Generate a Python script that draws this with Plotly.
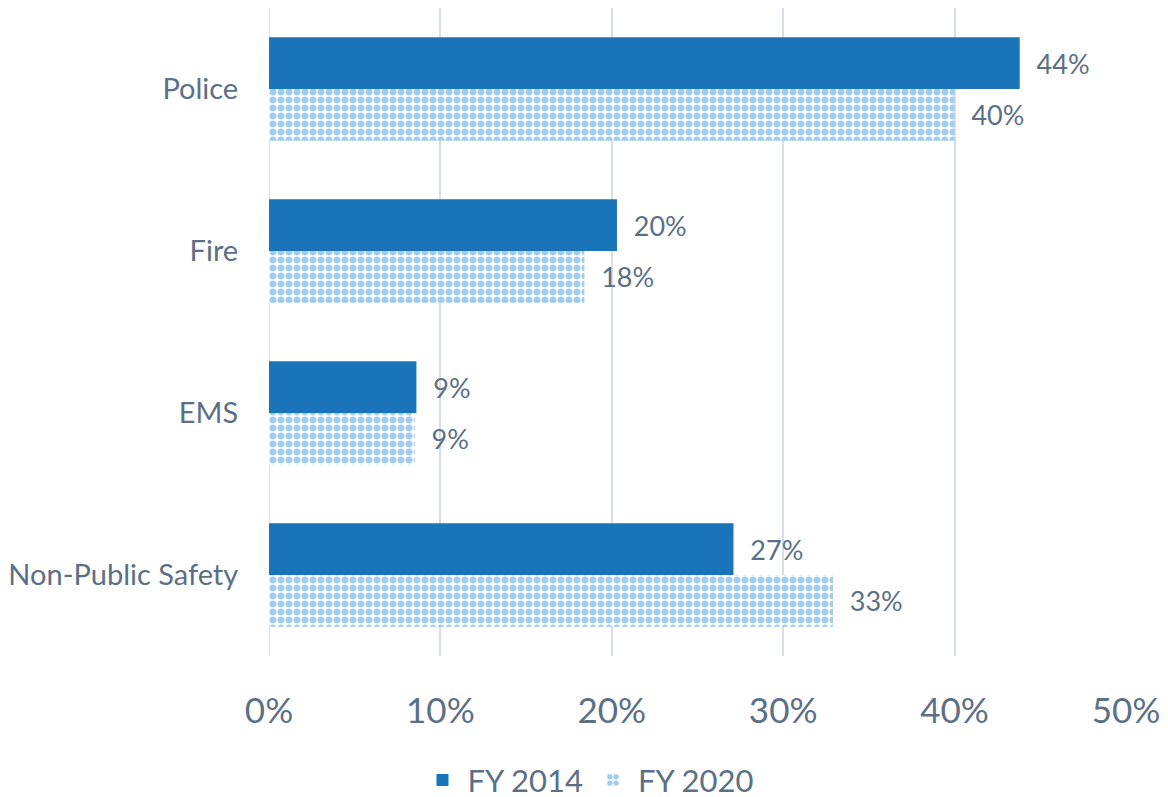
import plotly.graph_objects as go

categories = ["Police", "Fire", "EMS", "Non-Public Safety"]
fy2014 = [0.438, 0.203, 0.086, 0.271]
fy2020 = [0.400, 0.184, 0.085, 0.329]
x_ticks = [0, 0.1, 0.2, 0.3, 0.4, 0.5]

TEXT = "#5B6F86"
FONT = "Lato, 'Open Sans', sans-serif"
LABEL = "\u00a0\u00a0%{x:.0%}"

fig = go.Figure()
fig.add_trace(go.Bar(
    y=categories, x=fy2014, name="FY 2014", orientation="h",
    marker=dict(color="#1A74BA", line=dict(width=0)),
    texttemplate=LABEL, textposition="outside",
    textfont=dict(size=27, color=TEXT), cliponaxis=False,
))
fig.add_trace(go.Bar(
    y=categories, x=fy2020, name="FY 2020", orientation="h",
    marker=dict(
        color="white", line=dict(width=0),
        pattern=dict(shape=".", fgcolor="#4499E2", bgcolor="white",
                     size=8, solidity=0.6, fillmode="overlay"),
    ),
    texttemplate=LABEL, textposition="outside",
    textfont=dict(size=27, color=TEXT), cliponaxis=False,
))

# page body adds an 8px offset, so margins are shifted to compensate
fig.update_layout(
    barmode="group",
    bargap=0.36,
    bargroupgap=0,
    width=1168, height=797,
    margin=dict(l=261, r=50, t=0, b=149),
    plot_bgcolor="white",
    paper_bgcolor="white",
    font=dict(family=FONT, color=TEXT),
    xaxis=dict(
        range=[0, 0.5], tickvals=x_ticks, tickformat=".0%",
        tickfont=dict(size=35, color=TEXT),
        showgrid=True, gridcolor="#D9DEE6", gridwidth=2,
        zeroline=False, showline=False,
        ticks="outside", ticklen=24, tickcolor="rgba(0,0,0,0)",
    ),
    yaxis=dict(
        autorange="reversed",
        tickfont=dict(size=29, color=TEXT),
        ticks="outside", ticklen=24, tickcolor="rgba(0,0,0,0)",
        showline=False,
    ),
    legend=dict(
        orientation="h", xref="container", yref="container",
        x=0.497, xanchor="center", y=0.031, yanchor="middle",
        font=dict(size=31, color=TEXT),
        itemwidth=40,
    ),
    showlegend=True,
)
fig.add_vline(x=0, line=dict(color="#D9DEE6", width=2), layer="below")

fig.write_html("out.html")
